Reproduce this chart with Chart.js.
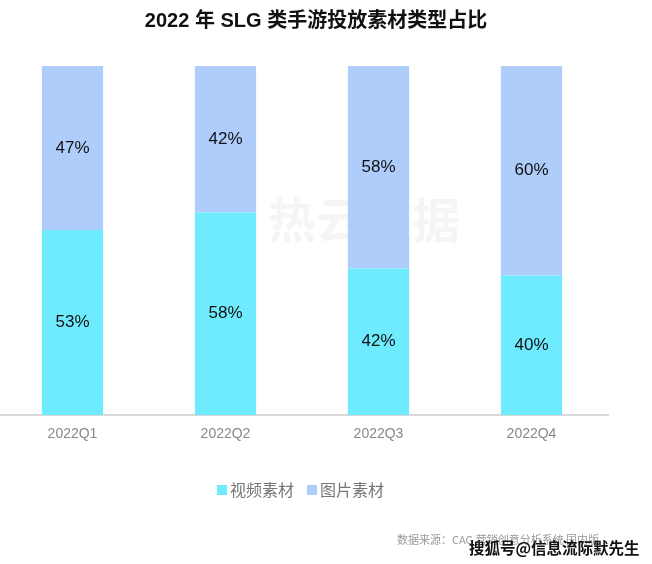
<!DOCTYPE html>
<html>
<head>
<meta charset="utf-8">
<script src="https://cdn.jsdelivr.net/npm/chart.js@4"></script>
<style>
  html, body { margin: 0; padding: 0; background: #fff; overflow: hidden; }
  #wrap { position: absolute; left: -4px; top: 0; width: 656px; height: 564px; }
</style>
</head>
<body>
<div id="wrap"><canvas id="c"></canvas></div>
<script>
// data
var quarters = ['2022Q1', '2022Q2', '2022Q3', '2022Q4'];
var videoShare = [53, 58, 42, 40];
var imageShare = [47, 42, 58, 60];
var seriesNames = ['视频素材', '图片素材'];

var FONT = '"Liberation Sans", Arial, "Noto Sans CJK SC", sans-serif';
var CJK = '"Noto Sans CJK SC", "Liberation Sans", sans-serif';

// labels inside bars, title, legend, footer
var extras = {
  id: 'extras',
  beforeDatasetsDraw: function (chart) {
    var ctx = chart.ctx;
    ctx.save();
    // faint watermark
    ctx.fillStyle = 'rgba(190,190,190,0.16)';
    ctx.font = 'bold 48px ' + CJK;
    ctx.textAlign = 'left';
    ctx.textBaseline = 'middle';
    ctx.fillText('热云数据', 272, 220);
    ctx.restore();
  },
  afterDatasetsDraw: function (chart) {
    var ctx = chart.ctx;
    ctx.save();
    ctx.fillStyle = '#111';
    ctx.font = '17px ' + FONT;
    ctx.textAlign = 'center';
    ctx.textBaseline = 'middle';
    chart.data.datasets.forEach(function (ds, i) {
      chart.getDatasetMeta(i).data.forEach(function (bar, j) {
        ctx.fillText(ds.data[j] + '%', bar.x, (bar.y + bar.base) / 2);
      });
    });
    ctx.restore();
  },
  afterDraw: function (chart) {
    var ctx = chart.ctx;
    ctx.save();
    // title
    ctx.fillStyle = '#111';
    ctx.font = 'bold 20px ' + FONT;
    ctx.textAlign = 'center';
    ctx.textBaseline = 'middle';
    ctx.fillText('2022 年 SLG 类手游投放素材类型占比', 320, 21);

    // legend
    ctx.font = '16px ' + CJK;
    ctx.textAlign = 'left';
    var x = 221, y = 490;
    chart.data.datasets.forEach(function (ds) {
      ctx.fillStyle = ds.backgroundColor;
      ctx.fillRect(x, y - 5, 10, 10);
      ctx.fillStyle = '#777';
      ctx.fillText(ds.label, x + 13, y);
      x += 13 + ctx.measureText(ds.label).width + 13;
    });

    // footer
    ctx.font = '11px ' + CJK;
    ctx.fillStyle = '#999';
    ctx.fillText('数据来源：CAG 营销创意分析系统 国内版', 401, 540);
    ctx.font = 'bold 15.5px ' + CJK;
    ctx.fillStyle = '#111';
    ctx.fillText('搜狐号@信息流际默先生', 473, 548);
    ctx.restore();
  }
};

new Chart(document.getElementById('c'), {
  type: 'bar',
  data: {
    labels: quarters,
    datasets: [
      { label: seriesNames[0], data: videoShare, backgroundColor: '#6eebff' },
      { label: seriesNames[1], data: imageShare, backgroundColor: '#aecdfb' }
    ]
  },
  options: {
    responsive: true,
    maintainAspectRatio: false,
    animation: false,
    datasets: { bar: { barPercentage: 0.4, categoryPercentage: 1 } },
    layout: { padding: { top: 66, right: 44, bottom: 0, left: 0 } },
    plugins: { legend: { display: false }, tooltip: { enabled: false } },
    scales: {
      x: {
        stacked: true,
        grid: { display: false },
        border: { color: '#d9d9d9', width: 2 },
        ticks: { color: '#888', font: { family: FONT, size: 14 }, padding: 3 },
        afterFit: function (scale) { scale.height = 149; }
      },
      y: { stacked: true, display: false, min: 0, max: 100 }
    }
  },
  plugins: [extras]
});
</script>
</body>
</html>
